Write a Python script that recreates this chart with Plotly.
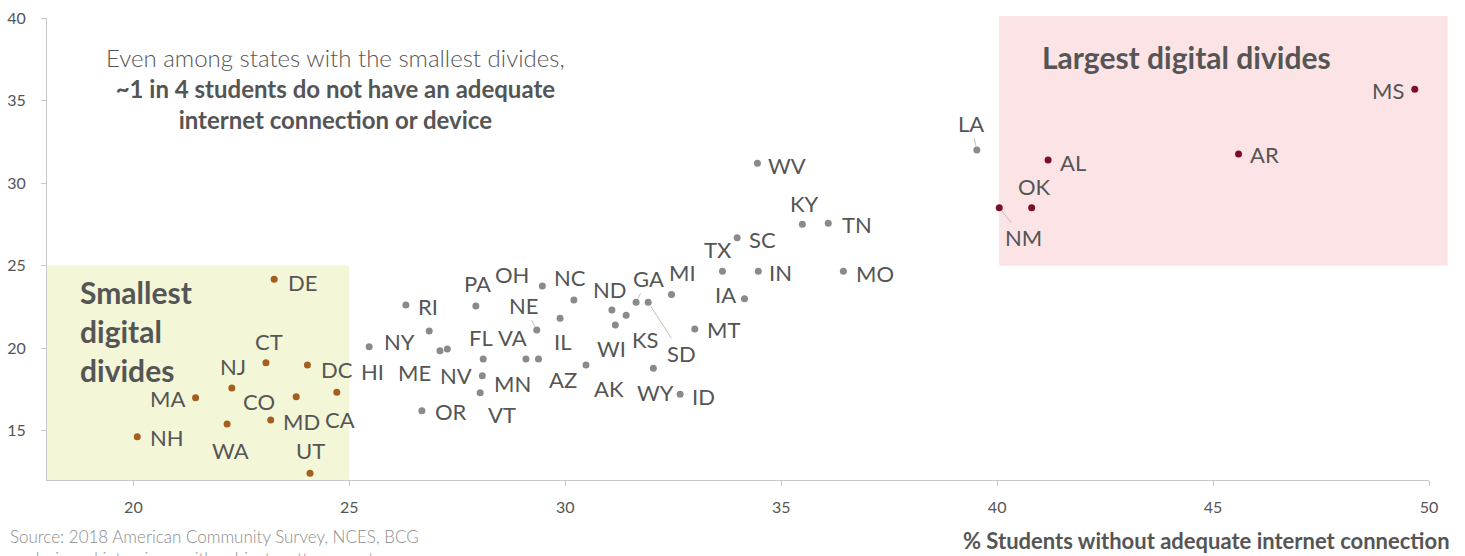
import plotly.graph_objects as go

# ---------------- data ----------------
states = ["DE", "CT", "NJ", "DC", "MA", "CO", "CA", "MD", "WA", "NH", "UT",
          "HI", "RI", "NY", "ME", "NV", "OR", "PA", "OH", "NC", "NE", "IL", "FL",
          "VA", "MN", "VT", "AZ", "AK", "WY", "ID", "ND", "KS", "WI", "GA", "SD",
          "MI", "MT", "TX", "IA", "SC", "IN", "MO", "KY", "TN", "WV", "LA",
          "AL", "OK", "NM", "MS", "AR"]
internet_pct = [23.26, 23.07, 22.28, 24.03, 21.44, 23.77, 24.71, 23.18, 22.17, 20.09, 24.09,
                25.46, 26.31, 26.85, 27.10, 27.27, 26.68, 27.93, 29.47, 30.20, 29.34, 29.88, 28.10,
                29.09, 28.08, 28.03, 29.38, 30.48, 32.04, 32.66, 31.08, 31.41, 31.16, 31.64, 31.92,
                32.46, 33.00, 33.64, 34.15, 33.98, 34.47, 36.44, 35.49, 36.09, 34.45, 39.53,
                41.18, 40.80, 40.05, 49.67, 45.59]
device_pct = [24.16, 19.11, 17.58, 18.97, 16.99, 17.05, 17.32, 15.64, 15.39, 14.62, 12.41,
              20.08, 22.61, 21.03, 19.84, 19.94, 16.20, 22.55, 23.76, 22.91, 21.09, 21.80, 19.33,
              19.33, 18.32, 17.29, 19.33, 18.97, 18.77, 17.19, 22.30, 21.98, 21.39, 22.77, 22.77,
              23.25, 21.15, 24.65, 22.99, 26.68, 24.65, 24.65, 27.50, 27.56, 31.19, 32.00,
              31.39, 28.50, 28.50, 35.68, 31.76]
group = (["small"] * 11) + (["mid"] * 35) + (["large"] * 5)

x_ticks = [20, 25, 30, 35, 40, 45, 50]
y_ticks = [15, 20, 25, 30, 35, 40]

# ---------------- label placement (pixel offsets, style only) ----------------
label_offsets = {
    "DE": (28, 3), "CT": (3, -21), "NJ": (1, -21), "DC": (30, 4), "MA": (-28, 1),
    "CO": (-37, 5), "CA": (3, 27), "MD": (31, 2), "WA": (3, 26), "NH": (30, 1),
    "UT": (0, -23), "HI": (3, 25), "RI": (22, 2), "NY": (-30, 10), "ME": (-26, 22),
    "NV": (9, 27), "OR": (29, 1), "PA": (2, -22), "OH": (-30, -11), "NC": (-4, -22),
    "NE": (-13, -25), "IL": (2, 23), "FL": (-2, -22), "VA": (-13, -22), "MN": (30, 8),
    "VT": (22, 22), "AZ": (25, 20), "AK": (23, 23), "WY": (2, 24), "ID": (23, 2),
    "ND": (-2, -21), "KS": (19, 24), "WI": (-4, 23), "GA": (12, -24), "SD": (33, 51),
    "MI": (11, -22), "MT": (29, 0), "TX": (-4, -22), "IA": (-19, -4), "SC": (25, 2),
    "IN": (22, 1), "MO": (32, 2), "KY": (2, -21), "TN": (29, 1), "WV": (30, 2),
    "LA": (-6, -27), "AL": (25, 2), "OK": (3, -21), "NM": (24, 30), "MS": (-27, 1),
    "AR": (26, 1),
}
leader_lines = {"NE", "GA", "SD", "LA", "NM"}

colors = {"small": "#a65e1e", "mid": "#8a8a8a", "large": "#7a1028"}
FONT = "Lato, 'Open Sans', sans-serif"
TEXT = "#555555"

fig = go.Figure()
for g in ["small", "mid", "large"]:
    xs = [x for x, gg in zip(internet_pct, group) if gg == g]
    ys = [y for y, gg in zip(device_pct, group) if gg == g]
    fig.add_trace(go.Scatter(x=xs, y=ys, mode="markers",
                             marker=dict(size=7, color=colors[g]),
                             showlegend=False, hoverinfo="skip"))

annotations = []
for s, x, y in zip(states, internet_pct, device_pct):
    dx, dy = label_offsets[s]
    line = s in leader_lines
    annotations.append(dict(
        x=x, y=y, xref="x", yref="y", text=s, showarrow=True,
        ax=dx, ay=dy, axref="pixel", ayref="pixel",
        arrowhead=0, arrowwidth=1, standoff=4,
        arrowcolor="#c0c0c0" if line else "rgba(0,0,0,0)",
        font=dict(family=FONT, size=22, color=TEXT)))

annotations += [
    dict(xref="paper", yref="paper", x=0.8247, y=0.9162, xanchor="center", yanchor="middle",
         text="<b>Largest digital divides</b>", showarrow=False,
         font=dict(family=FONT, size=30, color=TEXT)),
    dict(xref="paper", yref="paper", x=0.0227, y=0.323, xanchor="left", yanchor="middle",
         align="left", text="<b>Smallest<br>digital<br>divides</b>", showarrow=False,
         font=dict(family=FONT, size=30, color=TEXT)),
    dict(xref="paper", yref="paper", x=0.2084, y=0.848, xanchor="center", yanchor="middle",
         align="center",
         text="Even among states with the smallest divides,<br>"
              "<b>~1 in 4 students do not have an adequate<br>internet connection or device</b>",
         showarrow=False, font=dict(family=FONT, size=24, color=TEXT, weight=300)),
    dict(xref="paper", yref="paper", x=-0.0282, y=-0.095, xanchor="left", yanchor="top",
         align="left",
         text="Source: 2018 American Community Survey, NCES, BCG<br>"
              "analysis and interviews with subject matter experts",
         showarrow=False, font=dict(family=FONT, size=17, color="#8c8c8c", weight=300)),
    dict(xref="paper", yref="paper", x=1.017, y=-0.13, xanchor="right", yanchor="middle",
         text="<b>% Students without adequate internet connection</b>", showarrow=False,
         font=dict(family=FONT, size=22, color=TEXT)),
]

shapes = [
    dict(type="rect", xref="x", yref="y", x0=18, x1=25, y0=12, y1=25,
         fillcolor="#f4f6d8", line=dict(width=0), layer="below"),
    dict(type="rect", xref="paper", yref="paper", x0=0.6889, x1=1.0135, y0=0.4639, y1=1.0043,
         fillcolor="#fce4e6", line=dict(width=0), layer="below"),
]

axis_common = dict(showline=True, linecolor="#c8c8c8", linewidth=1, ticks="outside",
                   tickcolor="#c8c8c8", ticklen=5, showgrid=False, zeroline=False,
                   automargin=False,
                   tickfont=dict(family=FONT, size=16, color=TEXT))

fig.update_layout(
    width=1465, height=556,
    margin=dict(l=47, r=36, t=18, b=76),
    paper_bgcolor="white", plot_bgcolor="rgba(0,0,0,0)",
    xaxis=dict(range=[18, 50], tickvals=x_ticks, ticklabelstandoff=8, **axis_common),
    yaxis=dict(range=[12, 40], tickvals=y_ticks, ticklabelstandoff=12, **axis_common),
    annotations=annotations, shapes=shapes,
    font=dict(family=FONT),
)

fig.write_html("out.html", config={"displayModeBar": False},
               post_script="document.body.style.margin='0';document.body.style.overflow='hidden';")
